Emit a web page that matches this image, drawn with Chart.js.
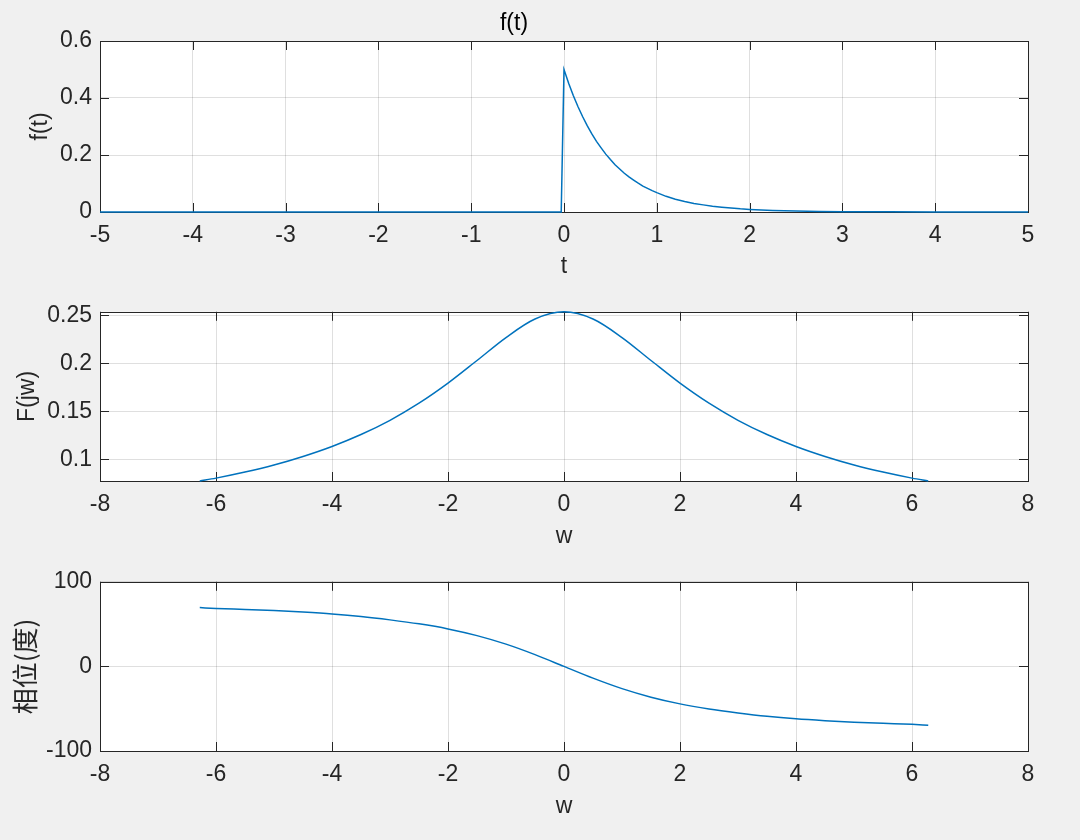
<!DOCTYPE html>
<html>
<head>
<meta charset="utf-8">
<script src="https://cdn.jsdelivr.net/npm/chart.js@4.4.1/dist/chart.umd.min.js"></script>
<style>
  html, body { margin: 0; padding: 0; background: #f0f0f0; }
  #wrap { position: relative; width: 1080px; height: 840px; }
  canvas { position: absolute; left: 0; display: block; }
</style>
</head>
<body>
<div id="wrap">
  <canvas id="c1" width="1080" height="290" style="top:0px"></canvas>
  <canvas id="c2" width="1080" height="270" style="top:290px"></canvas>
  <canvas id="c3" width="1080" height="280" style="top:560px"></canvas>
</div>
<script>
// ---- Data ----
const tValues = [-5, -0.03, 0, 0.05, 0.1, 0.15, 0.2, 0.25, 0.3, 0.35, 0.4, 0.45, 0.5, 0.55, 0.6, 0.65, 0.7, 0.75, 0.8, 0.85, 0.9, 0.95, 1.0,
  1.1, 1.2, 1.3, 1.4, 1.5, 1.6, 1.7, 1.8, 1.9, 2.0, 2.25, 2.5, 2.75, 3, 3.5, 4, 5];
const fValues = [0, 0, 0.5, 0.452, 0.409, 0.370, 0.335, 0.303, 0.274, 0.248, 0.225, 0.203, 0.184, 0.166, 0.151, 0.136, 0.123, 0.112, 0.101, 0.091, 0.083, 0.075, 0.068,
  0.055, 0.045, 0.037, 0.030, 0.025, 0.020, 0.017, 0.014, 0.011, 0.009, 0.0056, 0.0034, 0.002, 0.0012, 0.0005, 0.0002, 0];

const wValues = [-6.28, -6, -5.5, -5, -4.5, -4, -3.5, -3, -2.5, -2, -1.5, -1, -0.5, 0, 0.5, 1, 1.5, 2, 2.5, 3, 3.5, 4, 4.5, 5, 5.5, 6, 6.28];
const magValues = [0.0775, 0.0805, 0.0868, 0.0942, 0.1031, 0.1135, 0.1259, 0.1407, 0.1585, 0.1794, 0.2030, 0.2269, 0.2462, 0.2537,
  0.2462, 0.2269, 0.2030, 0.1794, 0.1585, 0.1407, 0.1259, 0.1135, 0.1031, 0.0942, 0.0868, 0.0805, 0.0775];
const phaseValues = [69.5, 68.5, 67.3, 66, 64.2, 62, 59, 55, 50.3, 44.3, 36.4, 26.3, 13.9, 0,
  -13.9, -26.3, -36.4, -44.3, -50.3, -55, -59, -62, -64.2, -66, -67.3, -68.5, -69.5];

const tTicks = [-5, -4, -3, -2, -1, 0, 1, 2, 3, 4, 5];
const fTicks = [0, 0.2, 0.4, 0.6];
const wTicks = [-8, -6, -4, -2, 0, 2, 4, 6, 8];
const magTicks = [0.1, 0.15, 0.2, 0.25];
const phaseTicks = [-100, 0, 100];

// ---- Styling ----
const FONT = '"Liberation Sans", Arial, Helvetica, sans-serif';
const TXT = '#262626';
const GRID = 'rgba(38,38,38,0.15)';
const LINE = '#0072BD';

const axesPlugin = {
  id: 'matlabAxes',
  beforeDraw(chart) {
    const a = chart.chartArea, ctx = chart.ctx;
    ctx.save();
    ctx.fillStyle = '#ffffff';
    ctx.fillRect(a.left, a.top, a.right - a.left, a.bottom - a.top);
    ctx.restore();
  },
  beforeDatasetsDraw(chart) {
    const a = chart.chartArea, ctx = chart.ctx;
    const x = chart.scales.x, y = chart.scales.y;
    const L = 9;
    ctx.save();
    ctx.strokeStyle = TXT;
    ctx.lineWidth = 1;
    ctx.beginPath();
    x.ticks.forEach(t => {
      const px = Math.round(x.getPixelForValue(t.value)) + 0.5;
      ctx.moveTo(px, a.bottom); ctx.lineTo(px, a.bottom - L);
      ctx.moveTo(px, a.top); ctx.lineTo(px, a.top + L);
    });
    y.ticks.forEach(t => {
      const py = Math.round(y.getPixelForValue(t.value)) + 0.5;
      ctx.moveTo(a.left, py); ctx.lineTo(a.left + L, py);
      ctx.moveTo(a.right, py); ctx.lineTo(a.right - L, py);
    });
    ctx.stroke();
    ctx.strokeRect(Math.round(a.left) + 0.5, Math.round(a.top) + 0.5, Math.round(a.right - a.left), Math.round(a.bottom - a.top));
    ctx.restore();
  }
};

function makeChart(id, cfg) {
  const xs = cfg.xData, ys = cfg.yData;
  const pts = xs.map((v, i) => ({ x: v, y: ys[i] }));
  return new Chart(document.getElementById(id), {
    type: 'line',
    data: {
      datasets: [{
        data: pts,
        borderColor: LINE,
        borderWidth: 1.5,
        pointRadius: 0,
        fill: false,
        tension: 0,
        cubicInterpolationMode: cfg.smooth ? 'monotone' : 'default',
        clip: false
      }]
    },
    options: {
      responsive: false,
      animation: false,
      devicePixelRatio: 1,
      layout: { padding: { left: 0, right: 52, top: cfg.padTop, bottom: 0 } },
      plugins: {
        legend: { display: false },
        tooltip: { enabled: false },
        title: cfg.title ? {
          display: true, text: cfg.title, color: '#000000',
          font: { family: FONT, size: 23, weight: 'normal', lineHeight: 1.2 },
          padding: { top: 10.2, bottom: 3.2 }
        } : { display: false }
      },
      scales: {
        x: {
          type: 'linear', min: cfg.xMin, max: cfg.xMax,
          afterBuildTicks: s => { s.ticks = cfg.xTicks.map(v => ({ value: v })); },
          afterFit: s => { s.height = cfg.xHeight; },
          grid: { color: GRID, lineWidth: 1, drawTicks: false },
          border: { display: false },
          ticks: { color: TXT, padding: 10, maxRotation: 0, autoSkip: false,
                   font: { family: FONT, size: 23, lineHeight: 1.2 },
                   callback: v => String(v) },
          title: { display: true, text: cfg.xTitle, color: TXT,
                   font: { family: FONT, size: 23, lineHeight: 1.2 },
                   padding: { top: 0, bottom: cfg.xTitlePad } }
        },
        y: {
          type: 'linear', min: cfg.yMin, max: cfg.yMax,
          afterBuildTicks: s => { s.ticks = cfg.yTicks.map(v => ({ value: v })); },
          afterFit: s => { s.width = 100; },
          grid: { color: GRID, lineWidth: 1, drawTicks: false },
          border: { display: false },
          ticks: { color: TXT, padding: 8, autoSkip: false,
                   font: { family: FONT, size: 23, lineHeight: 1.2 },
                   callback: v => String(v) },
          title: { display: true, text: cfg.yTitle, color: TXT,
                   font: { family: cfg.yTitleFont || FONT, size: cfg.yTitleSize || 23, lineHeight: 1.2 },
                   padding: { top: cfg.yTitlePad, bottom: 0 } }
        }
      }
    },
    plugins: [axesPlugin]
  });
}

makeChart('c1', {
  xData: tValues, yData: fValues, smooth: false,
  title: 'f(t)', padTop: 0,
  xMin: -5, xMax: 5, xTicks: tTicks, xHeight: 78, xTitle: 't', xTitlePad: 9.2,
  yMin: 0, yMax: 0.6, yTicks: fTicks, yTitle: 'f(t)', yTitlePad: 27.2
});

makeChart('c2', {
  xData: wValues, yData: magValues, smooth: true,
  title: null, padTop: 21,
  xMin: -8, xMax: 8, xTicks: wTicks, xHeight: 79, xTitle: 'w', xTitlePad: 9.7,
  yMin: 0.0775, yMax: 0.2537, yTicks: magTicks, yTitle: 'F(jw)', yTitlePad: 14.2
});

makeChart('c3', {
  xData: wValues, yData: phaseValues, smooth: true,
  title: null, padTop: 21,
  xMin: -8, xMax: 8, xTicks: wTicks, xHeight: 89, xTitle: 'w', xTitlePad: 19.2,
  yMin: -100, yMax: 100, yTicks: phaseTicks, yTitle: '相位(度)', yTitlePad: 10,
  yTitleFont: '"Noto Sans CJK SC", sans-serif', yTitleSize: 26
});
</script>
</body>
</html>
